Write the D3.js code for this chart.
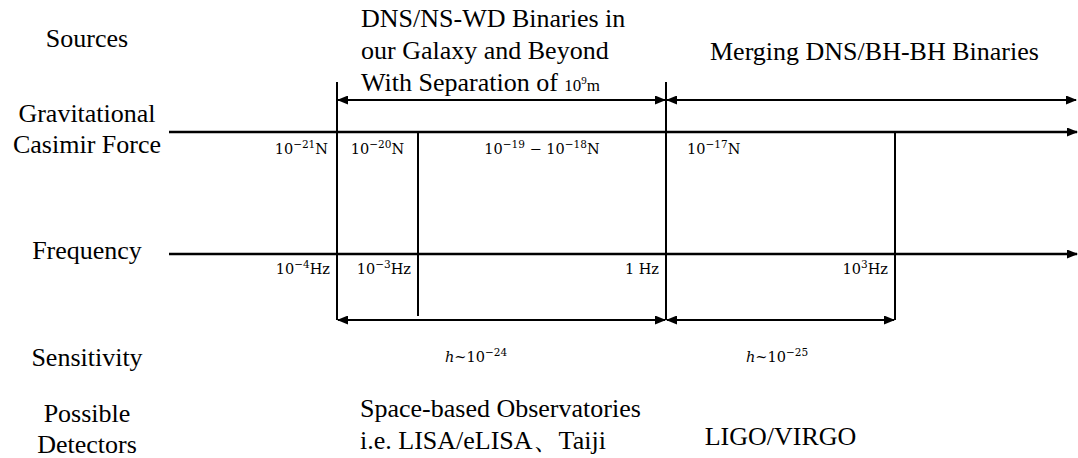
<!DOCTYPE html>
<html>
<head>
<meta charset="utf-8">
<script src="https://cdn.jsdelivr.net/npm/d3@7/dist/d3.min.js"></script>
<style>
  body { margin: 0; background: #fff; }
  text { fill: #000; }
</style>
</head>
<body>
<div id="chart"></div>
<script>
// row titles down the left side
var rowTitles = [["Sources"], ["Gravitational", "Casimir Force"], ["Frequency"], ["Sensitivity"], ["Possible", "Detectors"]];

// break points along the frequency axis, as log10(Hz)
var freqExp = [-4, -3, 0, 3];
var freqLabels = ["10^{−4}Hz", "10^{−3}Hz", "1 Hz", "10^{3}Hz"];
var forceLabels = ["10^{−21}N", "10^{−20}N", "10^{−19} − 10^{−18}N", "10^{−17}N"];

// sources: span in log10(Hz), null = open ended
var sourceFrom = [-4, 0];
var sourceTo = [0, null];
var sourceText = [
  ["DNS/NS-WD Binaries in", "our Galaxy and Beyond", ["With Separation of ", "10^{9}m"]],
  ["Merging DNS/BH-BH Binaries"]
];

// sensitivity bands
var sensFrom = [-4, 0];
var sensTo = [0, 3];
var sensLabels = ["*h*~10^{−24}", "*h*~10^{−25}"];
var detectorText = [["Space-based Observatories", "i.e. LISA/eLISA、Taiji"], ["LIGO/VIRGO"]];

var width = 1078, height = 458;
var serif = "'Liberation Serif', 'Times New Roman', serif";
var mathFont = "'DejaVu Serif', serif";

var axisStart = 169, axisEnd = 1077;
var y = {srcArrow: 100, tallTop: 82, force: 132, freq: 254, band: 320, sens: 362};

// frequency (log) scale, the diagram is not drawn to a uniform scale
var x = d3.scaleLinear()
    .domain(freqExp)
    .range([337, 418, 666, 895]);

var svg = d3.select("#chart").append("svg")
    .attr("width", width)
    .attr("height", height);

var defs = svg.append("defs");
defs.append("marker")
    .attr("id", "arrow")
    .attr("markerUnits", "userSpaceOnUse")
    .attr("markerWidth", 11).attr("markerHeight", 9)
    .attr("refX", 10).attr("refY", 4.5)
    .attr("orient", "auto-start-reverse")
  .append("path")
    .attr("d", "M0,0 L11,4.5 L0,9 Z")
    .attr("fill", "#000");

// draws a string with ^{..} superscripts and *..* italics into a text node
function richText(sel, str, size, supSize, rise, font) {
  var parts = str.split(/(\^\{[^}]*\}|\*[^*]*\*)/).filter(function(s) { return s.length; });
  var shift = 0;
  parts.forEach(function(p) {
    var sup = p.charAt(0) === "^";
    var ital = p.charAt(0) === "*";
    var t = sel.append("tspan")
        .attr("font-family", font)
        .attr("font-size", sup ? supSize : size)
        .text(sup ? p.slice(2, -1) : ital ? p.slice(1, -1) : p);
    if (ital) t.attr("font-style", "italic");
    var target = sup ? -rise : 0;
    if (target !== shift) { t.attr("dy", target - shift); shift = target; }
  });
}

// left titles
var titleY = [47, 122, 259, 366, 422];
rowTitles.forEach(function(lines, i) {
  lines.forEach(function(l, j) {
    svg.append("text")
        .attr("x", 87).attr("y", titleY[i] + j * 31)
        .attr("text-anchor", "middle")
        .attr("font-family", serif).attr("font-size", 26)
        .text(l);
  });
});

// the two horizontal axes
[y.force, y.freq].forEach(function(yy) {
  svg.append("line")
      .attr("x1", axisStart).attr("x2", axisEnd)
      .attr("y1", yy).attr("y2", yy)
      .attr("stroke", "#000").attr("stroke-width", 2.6)
      .attr("marker-end", "url(#arrow)");
});

// vertical dividers
svg.selectAll(".divider")
    .data(freqExp)
  .enter().append("line")
    .attr("class", "divider")
    .attr("x1", function(d) { return x(d); })
    .attr("x2", function(d) { return x(d); })
    .attr("y1", function(d) { return sourceFrom.indexOf(d) >= 0 ? y.tallTop : y.force; })
    .attr("y2", function(d) { return (sensFrom.indexOf(d) >= 0 || sensTo.indexOf(d) >= 0) ? y.band : y.band - 4; })
    .attr("stroke", "#000").attr("stroke-width", 2);

// double arrows for sources and sensitivity bands
function span(x1, x2, yy) {
  svg.append("line")
      .attr("x1", x1 + 1).attr("x2", x2 - 1)
      .attr("y1", yy).attr("y2", yy)
      .attr("stroke", "#000").attr("stroke-width", 1.8)
      .attr("marker-start", "url(#arrow)")
      .attr("marker-end", "url(#arrow)");
}
sourceFrom.forEach(function(f, i) {
  span(x(f), sourceTo[i] === null ? axisEnd : x(sourceTo[i]), y.srcArrow);
});
sensFrom.forEach(function(f, i) {
  span(x(f), x(sensTo[i]), y.band);
});

// force labels under the force axis
var forceAnchor = ["end", "middle", "middle", "start"];
forceLabels.forEach(function(lab, i) {
  var px;
  if (i === 0) px = x(freqExp[0]) - 9;
  else if (i === forceLabels.length - 1) px = x(freqExp[i - 1]) + 21;
  else px = (x(freqExp[i - 1]) + x(freqExp[i])) / 2;
  var t = svg.append("text")
      .attr("x", px).attr("y", y.force + 22)
      .attr("text-anchor", forceAnchor[i]);
  richText(t, lab, 14.5, 10.5, 6, mathFont);
});

// frequency labels under the frequency axis
freqLabels.forEach(function(lab, i) {
  var t = svg.append("text")
      .attr("x", x(freqExp[i]) - 7).attr("y", y.freq + 20)
      .attr("text-anchor", "end");
  richText(t, lab, 14.5, 10.5, 6, mathFont);
});

// source descriptions
sourceText.forEach(function(lines, i) {
  var left = x(sourceFrom[i]) + (i === 0 ? 24 : 44);
  var top = i === 0 ? 27 : 60;
  lines.forEach(function(l, j) {
    var t = svg.append("text")
        .attr("x", left).attr("y", top + j * 32)
        .attr("font-family", serif).attr("font-size", 26);
    if (typeof l === "string") t.text(l);
    else {
      t.append("tspan").text(l[0]);
      richText(t, l[1], 17, 11, 7, serif);
    }
  });
});

// sensitivity labels
var sensDx = [108, 80];
sensLabels.forEach(function(lab, i) {
  var t = svg.append("text")
      .attr("x", x(sensFrom[i]) + sensDx[i])
      .attr("y", y.sens);
  richText(t, lab, 14.5, 10.5, 6, mathFont);
});

// possible detectors
detectorText.forEach(function(lines, i) {
  lines.forEach(function(l, j) {
    var t = svg.append("text")
        .attr("y", lines.length === 1 ? 445 : 417 + j * 32)
        .attr("font-family", serif).attr("font-size", 26)
        .text(l);
    if (i === 0) t.attr("x", x(sensFrom[i]) + 23);
    else t.attr("x", (x(sensFrom[i]) + x(sensTo[i])) / 2).attr("text-anchor", "middle");
  });
});
</script>
</body>
</html>
